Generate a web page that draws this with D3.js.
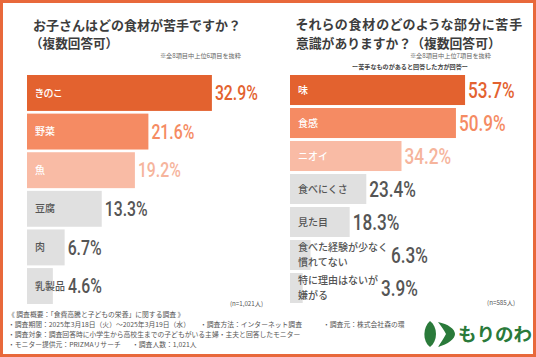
<!DOCTYPE html>
<html><head><meta charset="utf-8">
<script src="https://cdn.jsdelivr.net/npm/d3@7"></script>
<style>
html,body{margin:0;padding:0;background:#fff;}
svg{display:block;}
text{font-family:"Noto Sans CJK JP","Noto Sans",sans-serif;}
.palt{font-feature-settings:"palt";}
.num{font-family:Roboto,"Noto Sans",sans-serif;font-weight:500;}
</style></head>
<body>
<script>
const leftCategories = ["きのこ","野菜","魚","豆腐","肉","乳製品"];
const leftValues = [32.9,21.6,19.2,13.3,6.7,4.6];
const rightCategories = ["味","食感","ニオイ","食べにくさ","見た目","食べた経験が少なく\n慣れてない","特に理由はないが\n嫌がる"];
const rightValues = [53.7,50.9,34.2,23.4,18.3,6.3,3.9];

const W=536,H=357;
const svg=d3.select("body").append("svg").attr("width",W).attr("height",H);
svg.append("rect").attr("x",1.5).attr("y",1.5).attr("width",W-3).attr("height",H-3)
  .attr("fill","#fff").attr("stroke","#e8683b").attr("stroke-width",3);

const barCols=["#e3622f","#f58b63","#f9bba5"];
const valCols=["#e3622f","#f58b63","#f6b49c"];
const gray="#e0e0e0", dark="#555555";

function panel(cats, vals, opt){
  const x=d3.scaleLinear().domain([0,100]).range([opt.x0, opt.x0+opt.pxPer*100]);
  const y=d3.scaleBand().domain(cats).range([opt.y0,opt.y1]).paddingInner(opt.pad).paddingOuter(0);
  const g=svg.append("g");
  cats.forEach((c,i)=>{
    const v=vals[i];
    const top=y(c), bw=y.bandwidth();
    g.append("rect").attr("x",x(0)).attr("y",top).attr("width",x(v)-x(0)).attr("height",bw)
      .attr("fill", i<3?barCols[i]:gray);
    const lines=c.split("\n");
    const lt=g.append("text").attr("class",opt.palt?"palt":null).attr("x",x(0)+opt.lpad).attr("font-size",opt.lfs)
      .attr("font-weight",500).attr("fill", i<3?"#fff":dark);
    const lh=opt.lfs*1.5;
    lines.forEach((ln,k)=>{
      lt.append("tspan").attr("x",x(0)+opt.lpad)
        .attr("y", top+bw/2 + (k-(lines.length-1)/2)*lh + opt.lfs*0.36).text(ln);
    });
    let lw=0; lt.selectAll("tspan").each(function(){lw=Math.max(lw,this.getComputedTextLength());});
    const vx=Math.max(x(v), x(0)+opt.lpad+lw)+opt.vgap;
    g.append("text").attr("class","num")
      .attr("transform",`translate(${vx},${top+bw/2+opt.vfs*0.355}) scale(${opt.sx},1)`)
      .attr("font-size",opt.vfs).attr("fill", i<3?valCols[i]:dark).text(v.toFixed(1)+"%");
  });
}

panel(leftCategories,leftValues,{x0:27,pxPer:5.62,y0:75,y1:304,pad:0.07,lpad:8,lfs:10,vfs:20.5,sx:0.77,vgap:3,palt:true});
panel(rightCategories,rightValues,{x0:290,pxPer:3.26,y0:75,y1:303,pad:0.09,lpad:8,lfs:10,vfs:22,sx:0.78,vgap:3,palt:false});

const tcol="#3d3d3d";
function txt(x,y,s,fs,opts={}){
  return svg.append("text").attr("class",opts.palt?"palt":null).attr("x",x).attr("y",y).attr("font-size",fs)
    .attr("font-weight",opts.w||400).attr("fill",opts.c||tcol)
    .attr("text-anchor",opts.a||"start").attr("letter-spacing",opts.ls||0).text(s);
}
// titles
txt(33,30,"お子さんはどの食材が苦手ですか？",13,{w:700});
txt(30,47.5,"（複数回答可）",12.6,{w:700});
txt(241,57.5,"※全8項目中上位6項目を抜粋",6.2,{c:"#666",a:"end"});
txt(296,29,"それらの食材のどのような部分に苦手",13,{w:700,palt:true,ls:0.9});
txt(296,47.5,"意識がありますか？（複数回答可）",12.8,{w:700});
txt(491,57.5,"※全8項目中上位7項目を抜粋",6.2,{c:"#666",a:"end"});
txt(410,69,"ー苦手なものがあると回答した方が回答ー",6.1,{c:"#444",a:"middle",w:700});
txt(263,306,"(n=1,021人)",6.2,{c:"#555",a:"end"});
txt(515,305,"(n=585人)",6.2,{c:"#555",a:"end"});

// footer
const fs=6.8, fc="#555";
txt(8,317,"《 調査概要：「食費高騰と子どもの栄養」に関する調査 》",fs,{c:fc});
txt(8,327,"・調査期間：2025年3月18日（火）～2025年3月19日（水）",fs,{c:fc});
txt(200,327,"・調査方法：インターネット調査",fs,{c:fc});
txt(323,327,"・調査元：株式会社森の環",fs,{c:fc});
txt(8,337,"・調査対象：調査回答時に小学生から高校生までの子どもがいる主婦・主夫と回答したモニター",fs,{c:fc});
txt(8,347,"・モニター提供元：PRIZMAリサーチ",fs,{c:fc});
txt(132,347,"・調査人数：1,021人",fs,{c:fc});

// logo
const green="#2a7a3a";
svg.append("path").attr("d","M430,321 C423,327 422,341 430,347 C438,341 438,327 430,321 Z").attr("fill",green);
svg.append("path").attr("d","M438,322 C448,324 455,329 455,334 C455,339 448,344 438,347 C441,342 444,338 446,334 C444,330 441,326 438,322 Z").attr("fill",green);
txt(458,341,"もりのわ",18.5,{c:green,w:700});
</script>
</body></html>
